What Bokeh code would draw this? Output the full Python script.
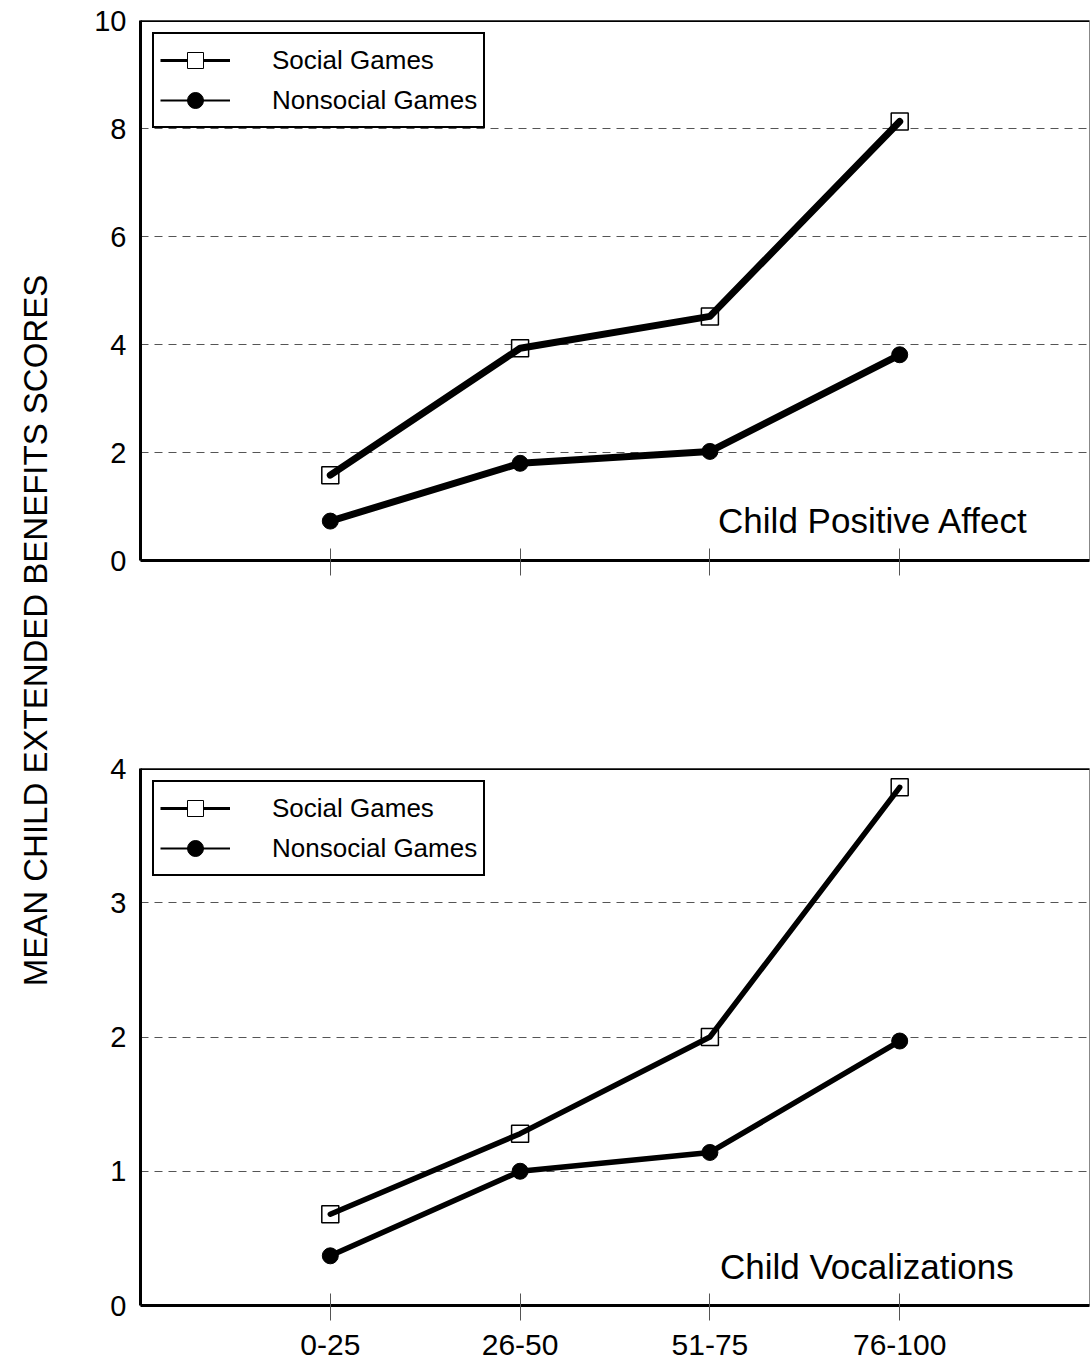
import math
from bokeh.plotting import figure
from bokeh.models import (FactorRange, Range1d, Legend, LegendItem, Label,
                          Span, FixedTicker, ColumnDataSource)
from bokeh.layouts import row, column
from bokeh.embed import file_html
from bokeh.resources import INLINE

# ---- data ----
categories = ["0-25", "26-50", "51-75", "76-100"]
affect_social = [1.58, 3.93, 4.52, 8.13]
affect_nonsocial = [0.73, 1.80, 2.02, 3.81]
vocal_social = [0.68, 1.28, 2.00, 3.86]
vocal_nonsocial = [0.37, 1.00, 1.14, 1.97]
series_names = ["Social Games", "Nonsocial Games"]
affect_ticks = [0, 2, 4, 6, 8, 10]
vocal_ticks = [0, 1, 2, 3, 4]
y_title = "MEAN CHILD EXTENDED BENEFITS SCORES"
affect_title = "Child Positive Affect"
vocal_title = "Child Vocalizations"

FONT = "Liberation Sans"
NAN = float("nan")


def make_panel(social, nonsocial, ymax, ticks, title, title_dx, title_y,
               height, mb_top, mb_bottom, mb_left, line_w, show_xlabels,
               tick_out):
    p = figure(width=1026, height=height, output_backend="svg",
               toolbar_location=None, tools="",
               x_range=FactorRange(*categories, range_padding=0.5,
                                   range_padding_units="absolute"),
               y_range=Range1d(0, ymax),
               min_border_top=mb_top, min_border_bottom=mb_bottom,
               min_border_left=mb_left, min_border_right=1)
    p.outline_line_color = "#888888"
    p.outline_line_width = 1
    p.background_fill_color = "white"
    p.border_fill_color = "white"

    # grid
    p.xgrid.grid_line_color = None
    p.ygrid.grid_line_color = "#555555"
    p.ygrid.grid_line_dash = "8 6"
    p.ygrid.grid_line_width = 1
    p.ygrid.ticker = FixedTicker(ticks=ticks)

    # y axis
    p.yaxis.ticker = FixedTicker(ticks=ticks)
    p.yaxis.axis_line_width = 3
    p.yaxis.axis_line_color = "black"
    p.yaxis.major_tick_line_color = None
    p.yaxis.minor_tick_line_color = None
    p.yaxis.major_label_text_font = FONT
    p.yaxis.major_label_text_font_size = "29px"
    p.yaxis.major_label_text_color = "black"
    p.yaxis.major_label_standoff = 8

    # x axis
    p.xaxis.axis_line_width = 3
    p.xaxis.axis_line_color = "black"
    p.xaxis.major_tick_line_color = "#555555"
    p.xaxis.major_tick_line_width = 1
    p.xaxis.major_tick_in = 12
    p.xaxis.major_tick_out = tick_out
    p.xaxis.major_label_text_font = FONT
    p.xaxis.major_label_text_font_size = "30px"
    if show_xlabels:
        p.xaxis.major_label_text_color = "black"
        p.xaxis.major_label_standoff = 14
    else:
        p.xaxis.major_label_text_color = None
        p.xaxis.major_label_standoff = 0

    # heavy top border of the frame
    p.add_layout(Span(location=ymax, dimension="width", line_color="black",
                      line_width=3))

    src = ColumnDataSource(dict(x=categories, s=social, n=nonsocial))
    p.scatter("x", "s", source=src, marker="square", size=17,
              fill_color="white", line_color="black", line_width=1.5)
    p.line("x", "s", source=src, line_width=line_w, line_color="black",
           line_cap="round", line_join="round")
    p.line("x", "n", source=src, line_width=line_w, line_color="black",
           line_cap="round", line_join="round")
    p.scatter("x", "n", source=src, marker="circle", size=16,
              fill_color="black", line_color="black")

    # legend-only renderers (a single undrawable point)
    ghost = ColumnDataSource(dict(x=[categories[0]], y=[NAN]))
    l1 = p.line("x", "y", source=ghost, line_width=3, line_color="black")
    m1 = p.scatter("x", "y", source=ghost, marker="square",
                   fill_color="white", line_color="black", line_width=1)
    l2 = p.line("x", "y", source=ghost, line_width=2, line_color="black")
    m2 = p.scatter("x", "y", source=ghost, marker="circle",
                   fill_color="black", line_color="black")
    legend = Legend(items=[LegendItem(label=series_names[0], renderers=[l1, m1]),
                           LegendItem(label=series_names[1], renderers=[l2, m2])],
                    location="top_left", margin=12, padding=6, spacing=0,
                    glyph_width=70, glyph_height=40, label_standoff=42,
                    label_text_font=FONT, label_text_font_size="26px",
                    label_text_color="black",
                    border_line_color="black", border_line_width=2,
                    border_line_alpha=1.0,
                    background_fill_color="white", background_fill_alpha=1)
    p.add_layout(legend, "center")

    # last category centre in the factor range's synthetic coordinates
    last_x = len(categories) - 0.5
    p.add_layout(Label(x=last_x, y=title_y, x_offset=title_dx,
                       text=title, text_align="right",
                       text_baseline="middle", text_font=FONT,
                       text_font_size="35px", text_color="black"))
    return p


top = make_panel(affect_social, affect_nonsocial, 10, affect_ticks,
                 affect_title, 129, 0.74, height=620, mb_top=20,
                 mb_bottom=60, mb_left=70, line_w=7, show_xlabels=False,
                 tick_out=15)
bottom = make_panel(vocal_social, vocal_nonsocial, 4, vocal_ticks,
                    vocal_title, 114, 0.29, height=746, mb_top=148,
                    mb_bottom=61, mb_left=76, line_w=5.5, show_xlabels=True,
                    tick_out=15)

side = figure(width=64, height=1366, output_backend="svg",
              toolbar_location=None, tools="",
              x_range=Range1d(0, 1), y_range=Range1d(0, 1),
              min_border=0)
side.axis.visible = False
side.grid.grid_line_color = None
side.outline_line_color = None
side.add_layout(Label(x=0.55, y=1 - 630 / 1366, text=y_title,
                      angle=math.pi / 2,
                      text_align="center", text_baseline="middle",
                      text_font=FONT, text_font_size="33px",
                      text_color="black"))

layout = row(side, column(top, bottom))

open("out.html", "w").write(file_html(layout, INLINE))
